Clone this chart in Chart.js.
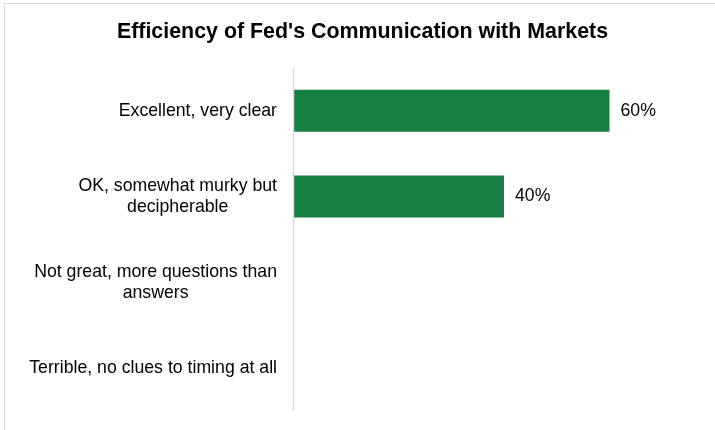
<!DOCTYPE html>
<html>
<head>
<meta charset="utf-8">
<script src="https://cdn.jsdelivr.net/npm/chart.js@4.4.1/dist/chart.umd.min.js"></script>
<style>
  html, body { margin: 0; padding: 0; background: #fff; overflow: hidden; }
  #wrap { position: relative; width: 715px; height: 430px; overflow: hidden; }
  #frame { position: absolute; left: 4px; top: 3px; width: 800px; height: 600px; border: 1px solid #d9d9d9; box-sizing: border-box; }
  #c { position: absolute; left: 0; top: 0; }
</style>
</head>
<body>
<div id="wrap">
  <div id="frame"></div>
  <canvas id="c" width="715" height="430"></canvas>
</div>
<script>
const titleText = "Efficiency of Fed's Communication with Markets";
const categories = [
  ["Excellent, very clear"],
  ["OK, somewhat murky but", "decipherable"],
  ["Not great, more questions than", "answers"],
  ["Terrible, no clues to timing at all"]
];
const values = [60, 40, 0, 0];
const axisMax = 80;

const FONT = "Arial, 'Liberation Sans', sans-serif";
const barColor = '#187F42';

const labelPlugin = {
  id: 'labels',
  afterDatasetsDraw(chart) {
    const ctx = chart.ctx;
    const ys = chart.scales.y;
    const xs = chart.scales.x;
    const left = chart.chartArea.left;
    ctx.save();
    ctx.font = '17.7px ' + FONT;
    ctx.fillStyle = '#000';
    ctx.textBaseline = 'middle';
    categories.forEach((lines, i) => {
      const yc = ys.getPixelForValue(i);
      let maxW = 0;
      lines.forEach(l => { maxW = Math.max(maxW, ctx.measureText(l).width); });
      const cx = left - 16 - maxW / 2;
      const lh = 20.5;
      const y0 = yc - (lines.length - 1) * lh / 2;
      ctx.textAlign = 'center';
      lines.forEach((l, k) => ctx.fillText(l, cx, y0 + k * lh));
    });
    const meta = chart.getDatasetMeta(0);
    ctx.textAlign = 'left';
    meta.data.forEach((bar, i) => {
      if (!values[i]) return;
      ctx.fillText(values[i] + '%', xs.getPixelForValue(values[i]) + 11, bar.y);
    });
    ctx.strokeStyle = '#d9d9d9';
    ctx.lineWidth = 1.5;
    ctx.beginPath();
    const x0 = Math.round(xs.getPixelForValue(0)) + 0.5;
    ctx.moveTo(x0, chart.chartArea.top);
    ctx.lineTo(x0, chart.chartArea.bottom);
    ctx.stroke();
    ctx.restore();
  }
};

new Chart(document.getElementById('c'), {
  type: 'bar',
  data: {
    labels: categories,
    datasets: [{
      data: values,
      backgroundColor: barColor,
      borderWidth: 0,
      barPercentage: 0.49,
      categoryPercentage: 1.0
    }]
  },
  options: {
    indexAxis: 'y',
    responsive: false,
    animation: false,
    devicePixelRatio: 1,
    layout: { padding: { left: 10, right: 0, top: 0, bottom: 19 } },
    plugins: {
      legend: { display: false },
      tooltip: { enabled: false },
      title: {
        display: true,
        text: titleText,
        color: '#000',
        font: { family: FONT, size: 21.4, weight: 'bold', lineHeight: 1.2 },
        padding: { top: 19.5, bottom: 22.8 }
      }
    },
    scales: {
      x: { display: false, min: 0, max: axisMax },
      y: {
        display: true,
        ticks: { display: false },
        grid: { display: false, drawTicks: false },
        border: { display: false },
        afterFit(scale) { scale.width = 283; }
      }
    }
  },
  plugins: [labelPlugin]
});
</script>
</body>
</html>
